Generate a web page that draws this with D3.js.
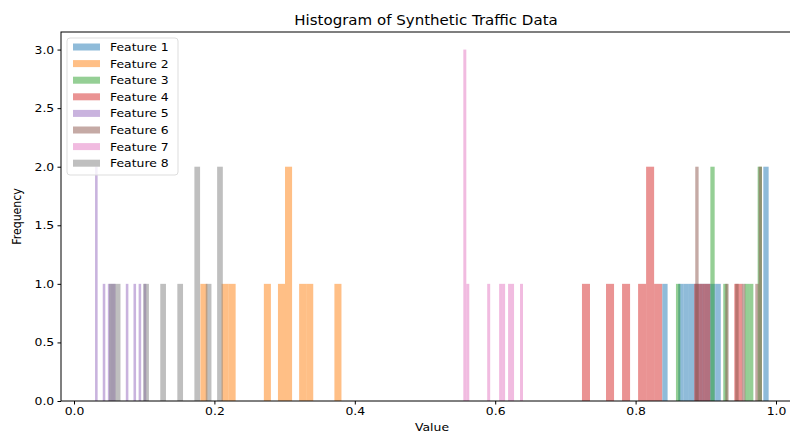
<!DOCTYPE html>
<html>
<head>
<meta charset="utf-8">
<script src="https://cdn.jsdelivr.net/npm/d3@7"></script>
<style>
  body { margin: 0; background: #fff; }
  svg { font-family: "DejaVu Sans", sans-serif; }
</style>
</head>
<body>
<svg id="chart" width="790" height="434"></svg>
<script>
// one histogram per feature, 20 equal bins between the feature's min and max
const features = ['Feature 1', 'Feature 2', 'Feature 3', 'Feature 4',
                  'Feature 5', 'Feature 6', 'Feature 7', 'Feature 8'];
const colors = ['#1f77b4', '#ff7f0e', '#2ca02c', '#d62728',
                '#9467bd', '#8c564b', '#e377c2', '#7f7f7f'];
const ranges = [
  [0.838, 0.9895],
  [0.180, 0.381],
  [0.8575, 0.980],
  [0.7236, 0.952],
  [0.030, 0.103],
  [0.885, 0.980],
  [0.5546, 0.6396],
  [0.050, 0.212]
];
const counts = [
  [1,0,0,1,1,1,1,1,1,1,1,0,0,0,0,0,0,0,0,2],
  [1,0,0,1,1,0,0,0,0,1,0,1,2,0,1,1,0,0,0,1],
  [1,0,0,0,0,0,0,0,2,0,0,1,0,0,0,0,1,1,0,2],
  [1,0,0,1,0,1,0,1,2,1,0,0,0,0,1,1,0,0,0,1],
  [2,0,0,1,0,1,1,1,0,0,0,0,1,0,0,1,0,1,0,1],
  [2,0,0,0,0,0,0,0,0,1,0,0,1,0,1,0,0,0,1,2],
  [3,1,0,0,0,0,0,0,1,0,0,0,1,1,0,1,1,0,0,1],
  [1,1,0,0,0,0,1,0,0,1,0,0,1,0,0,2,0,1,0,2]
];
const xTicks = [0.0, 0.2, 0.4, 0.6, 0.8, 1.0];
const yTicks = [0.0, 0.5, 1.0, 1.5, 2.0, 2.5, 3.0];

const svg = d3.select('#chart');
const padLeft = 61, padTop = 32, padBottom = 401;
const stretch = 1.13; // the picture is wider than it is tall, text too

const x = d3.scaleLinear().domain([0, 1]).range([74, 776]);
const y = d3.scaleLinear().domain([0, 3.15]).range([padBottom, padTop]);
const padRight = x(1.0385);
const midX = 426;

const plot = svg.append('g');

counts.forEach((c, i) => {
  const [lo, hi] = ranges[i];
  const w = (hi - lo) / c.length;
  plot.append('g')
    .attr('fill', colors[i])
    .attr('fill-opacity', 0.5)
    .selectAll('rect')
    .data(c)
    .enter()
    .append('rect')
    .attr('x', (d, k) => x(lo + k * w))
    .attr('width', x(lo + w) - x(lo))
    .attr('y', d => y(d))
    .attr('height', d => y(0) - y(d));
});

// spines
svg.append('rect')
  .attr('x', padLeft).attr('y', padTop)
  .attr('width', padRight - padLeft).attr('height', padBottom - padTop)
  .attr('fill', 'none').attr('stroke', '#000').attr('stroke-width', 1);

const xAxis = svg.append('g')
  .attr('transform', `translate(0,${padBottom})`)
  .call(d3.axisBottom(x).tickValues(xTicks).tickFormat(d3.format('.1f')).tickSize(3.5).tickPadding(3));
const yAxis = svg.append('g')
  .attr('transform', `translate(${padLeft},0)`)
  .call(d3.axisLeft(y).tickValues(yTicks).tickFormat(d3.format('.1f')).tickSize(3.5).tickPadding(2.5));
[xAxis, yAxis].forEach(a => {
  a.select('.domain').remove();
  a.selectAll('text').attr('font-size', 11).attr('fill', '#000')
    .attr('font-family', '"DejaVu Sans", sans-serif')
    .attr('transform', `scale(${stretch},1)`);
  a.selectAll('line').attr('stroke', '#000');
});

function label(px, py, txt, size, rot) {
  return svg.append('text')
    .attr('transform', `translate(${px},${py})` + (rot ? ` rotate(${rot}) scale(1,${stretch})` : ` scale(${stretch},1)`))
    .attr('text-anchor', 'middle').attr('font-size', size)
    .text(txt);
}
label(midX, 25, 'Histogram of Synthetic Traffic Data', 13.3);
label(432, 431, 'Value', 11);
label(21, (padTop + padBottom) / 2, 'Frequency', 11, -90);

// legend
const legend = svg.append('g').attr('transform', 'translate(67,38)');
legend.append('rect')
  .attr('width', 111).attr('height', 137).attr('rx', 3)
  .attr('fill', '#fff').attr('fill-opacity', 0.8)
  .attr('stroke', '#ddd');
features.forEach((f, i) => {
  const g = legend.append('g').attr('transform', `translate(6,${9 + i * 16.6})`);
  g.append('rect').attr('width', 27).attr('height', 7).attr('y', -3.5)
    .attr('fill', colors[i]).attr('fill-opacity', 0.5);
  g.append('text').attr('transform', `translate(37,4) scale(${stretch},1)`)
    .attr('font-size', 11).text(f);
});
</script>
</body>
</html>
